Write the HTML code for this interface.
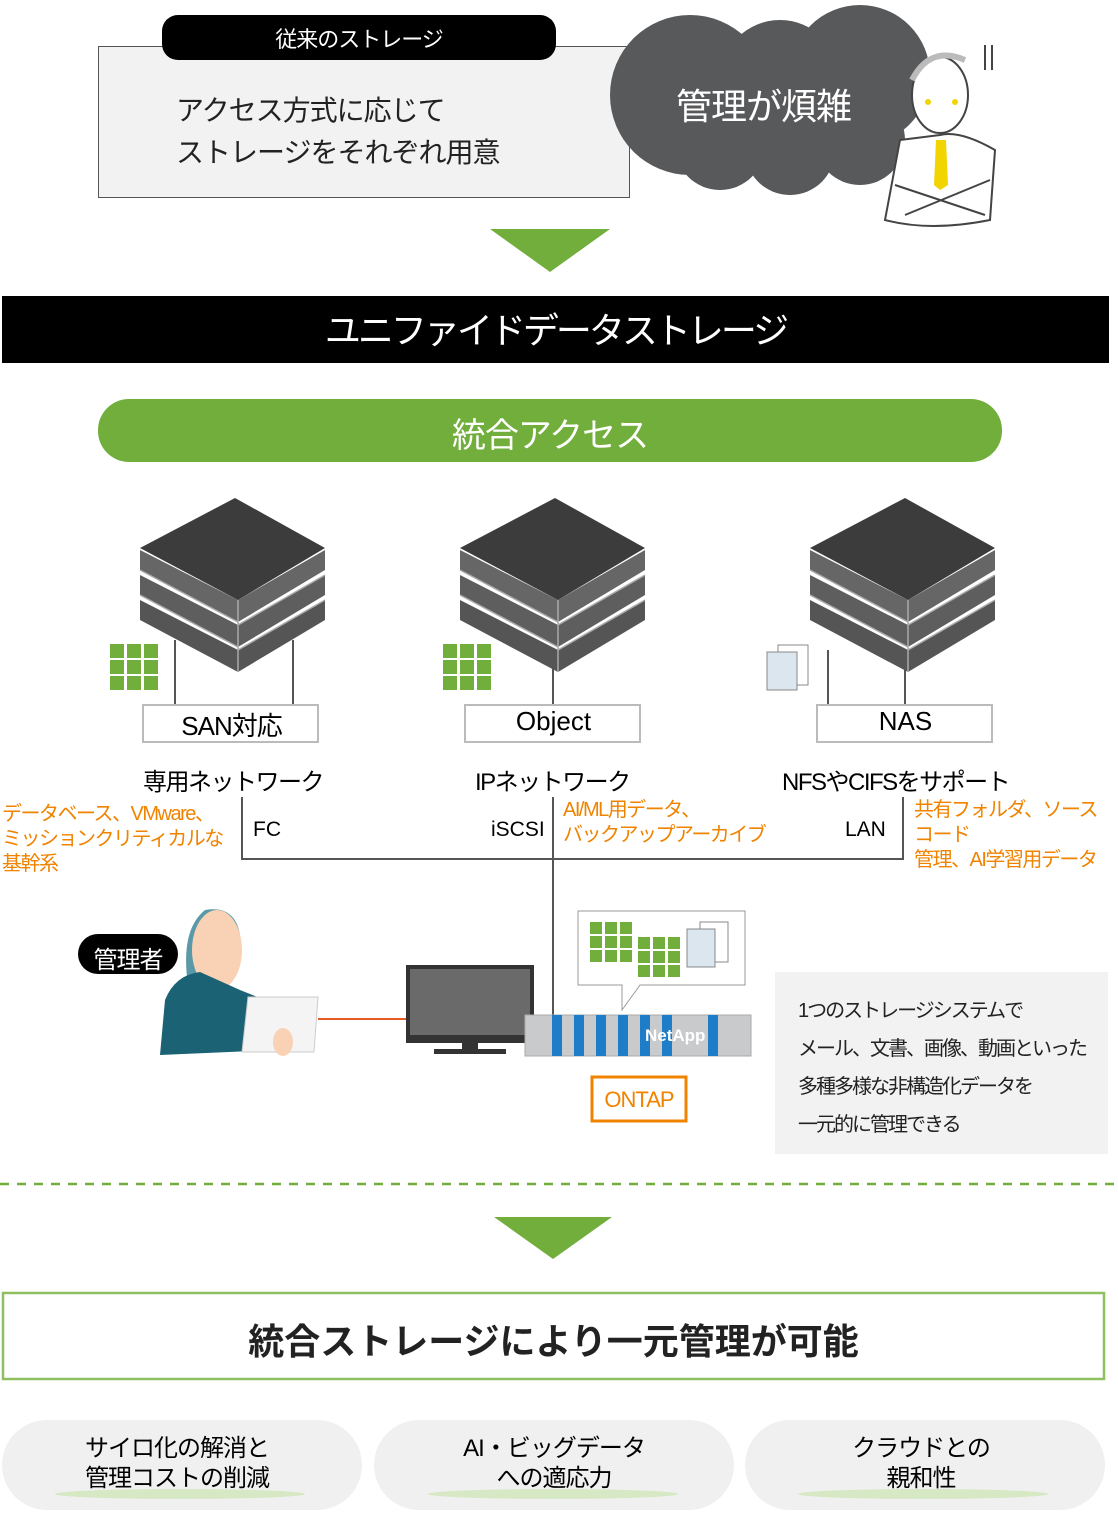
<!DOCTYPE html>
<html><head><meta charset="utf-8"><style>
body{margin:0;width:1118px;height:1521px;background:#fff;position:relative;overflow:hidden;font-family:"Liberation Sans","Noto Sans CJK JP",sans-serif;}
.a{position:absolute;white-space:nowrap;}
.or{color:#f08300;font-size:20px;line-height:25px;letter-spacing:-1.5px;}
</style></head><body>
<svg class="a" style="left:0;top:0" width="1118" height="1521">
<rect x="98.5" y="46.5" width="531" height="151" fill="#f2f2f2" stroke="#555"/>
<rect x="162" y="15" width="394" height="45" rx="16" fill="#000"/>
<g fill="#58595b">
<circle cx="690" cy="95" r="80"/><circle cx="780" cy="80" r="60"/><circle cx="860" cy="75" r="70"/>
<circle cx="720" cy="145" r="45"/><circle cx="790" cy="150" r="45"/><circle cx="860" cy="140" r="45"/>
</g>
<g fill="none" stroke="#444" stroke-width="2">
<path d="M900 140 L885 220 Q930 232 990 220 L995 150 Q960 130 940 135 Z" fill="#fff"/>
<ellipse cx="940" cy="95" rx="28" ry="38" fill="#fff"/>
<path d="M912 80 Q930 45 965 60" stroke="#bbb" stroke-width="6"/>
<path d="M895 185 L985 215 M990 180 L905 215"/>
<path d="M985 45v25M992 45v25"/>
</g>
<circle cx="928" cy="102" r="3" fill="#f2d400"/><circle cx="955" cy="102" r="3" fill="#f2d400"/>
<polygon points="936,140 946,140 948,185 940,190 934,185" fill="#f2d400"/>
<polygon points="490,229 610,229 550,272" fill="#72ae3c"/>
<polygon points="494,1217 612,1217 553,1259" fill="#72ae3c"/>
<rect x="2" y="296" width="1107" height="67" fill="#000"/>
<rect x="98" y="399" width="904" height="63" rx="31" fill="#72ae3c"/>
<g id="sv">
<polygon points="140,600 238,650 325,600 325,620 238,672 140,620" fill="#555"/>
<polygon points="140,575 238,625 325,575 325,595 238,647 140,595" fill="#5e5e5e"/>
<polygon points="140,550 238,600 325,550 325,570 238,622 140,570" fill="#666"/>
<polygon points="140,548 235,498 325,548 238,600" fill="#3c3c3c"/>
<path d="M238 600v72M238 625L325 575M238 650L325 600M140 570L238 622M140 595L238 647" stroke="#aaa" stroke-width="1.5"/>
</g>
<use href="#sv" x="320"/><use href="#sv" x="670"/>
<g fill="#72ae3c" id="gr">
<rect x="110" y="644" width="14" height="14"/><rect x="127" y="644" width="14" height="14"/><rect x="144" y="644" width="14" height="14"/>
<rect x="110" y="660" width="14" height="14"/><rect x="127" y="660" width="14" height="14"/><rect x="144" y="660" width="14" height="14"/>
<rect x="110" y="676" width="14" height="14"/><rect x="127" y="676" width="14" height="14"/><rect x="144" y="676" width="14" height="14"/>
</g>
<use href="#gr" x="333"/>
<g stroke="#888" fill="#dce6ee"><rect x="778" y="645" width="30" height="40" fill="#fff"/><rect x="767" y="652" width="30" height="38"/></g>
<g stroke="#555" stroke-width="2" fill="none">
<path d="M175 640v65M293 640v65M553 660v45M828 650v55M905 650v55"/>
<path d="M242 797v62h661v-62M553 797v243"/>
</g>
<g fill="#fff" stroke="#bbb" stroke-width="2">
<rect x="143" y="705" width="175" height="37"/><rect x="465" y="705" width="175" height="37"/><rect x="817" y="705" width="175" height="37"/>
</g>
<path d="M578 911h167v74H640l-18 25 0-25h-44z" fill="#fff" stroke="#999"/>
<g fill="#72ae3c" id="g2">
<rect x="590" y="922" width="12" height="12"/><rect x="605" y="922" width="12" height="12"/><rect x="620" y="922" width="12" height="12"/>
<rect x="590" y="936" width="12" height="12"/><rect x="605" y="936" width="12" height="12"/><rect x="620" y="936" width="12" height="12"/>
<rect x="590" y="950" width="12" height="12"/><rect x="605" y="950" width="12" height="12"/><rect x="620" y="950" width="12" height="12"/>
</g>
<use href="#g2" x="48" y="15"/>
<g stroke="#888" fill="#dce6ee"><rect x="700" y="922" width="28" height="40" fill="#fff"/><rect x="687" y="929" width="28" height="38"/></g>
<path d="M188 985 Q180 930 205 910 Q235 905 240 935" fill="#5a9aa8"/>
<ellipse cx="217" cy="950" rx="25" ry="40" fill="#f9d1b5"/>
<path d="M160 1055 L165 1000 Q175 975 200 972 L240 990 L265 1000 L275 1050 Z" fill="#1b6275"/>
<path d="M248 997h70l-4 55h-72z" fill="#f4f4f4" stroke="#ccc"/>
<ellipse cx="283" cy="1042" rx="10" ry="14" fill="#f9d1b5"/>
<line x1="318" y1="1019" x2="408" y2="1019" stroke="#e85a24" stroke-width="2"/>
<rect x="406" y="965" width="128" height="78" fill="#333"/><rect x="410" y="969" width="120" height="66" fill="#6a6a6a"/>
<rect x="462" y="1043" width="16" height="6" fill="#333"/><rect x="434" y="1049" width="72" height="5" fill="#333"/>
<rect x="525" y="1015" width="226" height="41" fill="#c8cacc" stroke="#aaa"/>
<g fill="#1e7dc8"><rect x="552" y="1015" width="10" height="41"/><rect x="574" y="1015" width="10" height="41"/><rect x="596" y="1015" width="10" height="41"/><rect x="618" y="1015" width="10" height="41"/><rect x="640" y="1015" width="10" height="41"/><rect x="662" y="1015" width="10" height="41"/><rect x="708" y="1015" width="10" height="41"/></g>
<path d="M592 1077h94v44h-94z" fill="#fff" stroke="#f08300" stroke-width="3"/>
<rect x="775" y="972" width="333" height="182" fill="#f2f2f2"/>
<line x1="0" y1="1184" x2="1118" y2="1184" stroke="#72ae3c" stroke-width="2.5" stroke-dasharray="9 8"/>
<rect x="3" y="1293" width="1101" height="86" fill="#fff" stroke="#8fc060" stroke-width="2.5"/>
<g fill="#f0f0f0"><rect x="2" y="1420" width="360" height="90" rx="45"/><rect x="374" y="1420" width="360" height="90" rx="45"/><rect x="745" y="1420" width="360" height="90" rx="45"/></g>
<g fill="#d7e8c4"><ellipse cx="180" cy="1494" rx="125" ry="5"/><ellipse cx="553" cy="1494" rx="125" ry="5"/><ellipse cx="923" cy="1494" rx="125" ry="5"/></g>
<rect x="78" y="934" width="100" height="40" rx="20" fill="#000"/>
</svg>
<div class="a" style="left:162px;top:22px;width:394px;text-align:center;color:#fff;font-size:22px;letter-spacing:-1px">従来のストレージ</div>
<div class="a" style="left:176px;top:90px;font-size:28px;line-height:42px;color:#222;letter-spacing:-1px">アクセス方式に応じて<br>ストレージをそれぞれ用意</div>
<div class="a" style="left:676px;top:78px;font-size:36px;color:#fff;letter-spacing:-1px">管理が煩雑</div>
<div class="a" style="left:2px;top:302px;width:1107px;text-align:center;color:#fff;font-size:36px;letter-spacing:-3px">ユニファイドデータストレージ</div>
<div class="a" style="left:98px;top:408px;width:904px;text-align:center;color:#fff;font-size:34px;letter-spacing:-1px">統合アクセス</div>
<div class="a" style="left:143px;top:706px;width:177px;text-align:center;font-size:26px;letter-spacing:-1px">SAN対応</div>
<div class="a" style="left:465px;top:706px;width:177px;text-align:center;font-size:26px">Object</div>
<div class="a" style="left:817px;top:706px;width:177px;text-align:center;font-size:26px">NAS</div>
<div class="a" style="left:143px;top:762px;font-size:24px;letter-spacing:-1.5px">専用ネットワーク</div>
<div class="a" style="left:475px;top:762px;font-size:24px;letter-spacing:-1.5px">IPネットワーク</div>
<div class="a" style="left:782px;top:762px;font-size:24px;letter-spacing:-1.5px">NFSやCIFSをサポート</div>
<div class="a or" style="left:2px;top:802px">データベース、VMware、<br>ミッションクリティカルな<br>基幹系</div>
<div class="a" style="left:253px;top:818px;font-size:21px">FC</div>
<div class="a" style="left:491px;top:818px;font-size:21px">iSCSI</div>
<div class="a or" style="left:563px;top:798px">AI/ML用データ、<br>バックアップアーカイブ</div>
<div class="a" style="left:845px;top:818px;font-size:21px">LAN</div>
<div class="a or" style="left:914px;top:798px">共有フォルダ、ソース<br>コード<br>管理、AI学習用データ</div>
<div class="a" style="left:78px;top:940px;width:100px;text-align:center;color:#fff;font-size:24px;letter-spacing:-1px">管理者</div>
<div class="a" style="left:645px;top:1026px;color:#fff;font-size:17px;font-weight:bold">NetApp</div>
<div class="a" style="left:592px;top:1087px;width:94px;text-align:center;color:#f08300;font-size:22px;letter-spacing:-1px">ONTAP</div>
<div class="a" style="left:798px;top:992px;font-size:20px;line-height:38px;color:#222;letter-spacing:-2px">1つのストレージシステムで<br>メール、文書、画像、動画といった<br>多種多様な非構造化データを<br>一元的に管理できる</div>
<div class="a" style="left:3px;top:1313px;width:1101px;text-align:center;font-size:36px;font-weight:bold;color:#222">統合ストレージにより一元管理が可能</div>
<div class="a" style="left:2px;top:1434px;width:350px;text-align:center;font-size:24px;line-height:30px;letter-spacing:-1px">サイロ化の解消と<br>管理コストの削減</div>
<div class="a" style="left:374px;top:1434px;width:360px;text-align:center;font-size:24px;line-height:30px;letter-spacing:-1px">AI・ビッグデータ<br>への適応力</div>
<div class="a" style="left:745px;top:1434px;width:352px;text-align:center;font-size:24px;line-height:30px;letter-spacing:-1px">クラウドとの<br>親和性</div>
</body></html>
